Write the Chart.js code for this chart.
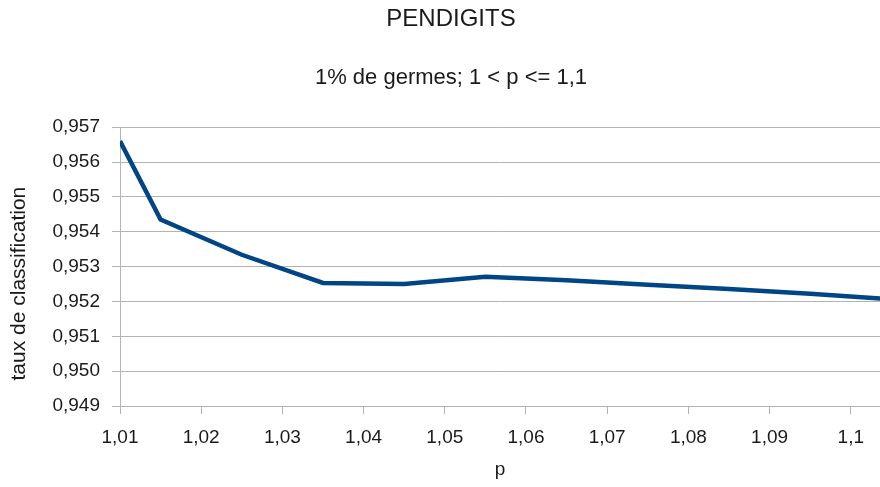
<!DOCTYPE html>
<html>
<head>
<meta charset="utf-8">
<script src="https://cdn.jsdelivr.net/npm/chart.js@4"></script>
<style>
  html, body { margin: 0; padding: 0; background: #fff; }
  #wrap { width: 880px; height: 487px; }
</style>
</head>
<body>
<div id="wrap"><canvas id="pChart"></canvas></div>
<script>
// classification rate against p (1% seeds)
const pValues = [1.01, 1.015, 1.025, 1.035, 1.045, 1.055, 1.065, 1.075, 1.085, 1.095, 1.105];
const tauxValues = [0.95660, 0.95435, 0.95334, 0.95253, 0.95250, 0.95271, 0.95261, 0.95248, 0.95236, 0.95222, 0.95206];
const xTicks = [1.01, 1.02, 1.03, 1.04, 1.05, 1.06, 1.07, 1.08, 1.09, 1.1];
const yTicks = [0.949, 0.950, 0.951, 0.952, 0.953, 0.954, 0.955, 0.956, 0.957];
const yTitle = "taux de classification";

const FONT = "'Liberation Sans', Arial, sans-serif";
const gridGray = "#b3b3b3";
const textColor = "#1a1a1a";

function frNumber(v, digits) {
    return v.toFixed(digits).replace(".", ",");
}

// vertical y title, sits a little below the middle of the plot
const yTitlePlugin = {
    id: "yTitle",
    afterDraw(chart) {
        const { ctx, chartArea } = chart;
        const cy = (chartArea.top + chartArea.bottom) / 2 + 17;
        ctx.save();
        ctx.translate(19, cy);
        ctx.rotate(-Math.PI / 2);
        ctx.font = "21px " + FONT;
        ctx.fillStyle = textColor;
        ctx.textAlign = "center";
        ctx.textBaseline = "middle";
        ctx.fillText(yTitle, 0, 0);
        ctx.restore();
    }
};

const ctx = document.getElementById("pChart").getContext("2d");

new Chart(ctx, {
    type: "line",
    data: {
        datasets: [{
            data: pValues.map((p, i) => ({ x: p, y: tauxValues[i] })),
            borderColor: "#004586",
            borderWidth: 4.5,
            pointRadius: 0,
            tension: 0,
            fill: false
        }]
    },
    options: {
        responsive: true,
        maintainAspectRatio: false,
        animation: false,
        // left padding keeps the titles centred a bit right of the canvas middle
        layout: { padding: { left: 22, right: 0, top: 0, bottom: 0 } },
        plugins: {
            legend: { display: false },
            tooltip: { enabled: false },
            title: {
                display: true,
                text: "PENDIGITS",
                color: textColor,
                font: { family: FONT, size: 24, weight: "normal" },
                padding: { top: 5, bottom: 0 }
            },
            subtitle: {
                display: true,
                text: "1% de germes; 1 < p <= 1,1",
                color: textColor,
                font: { family: FONT, size: 22, weight: "normal" },
                padding: { top: 31, bottom: 36 }
            }
        },
        scales: {
            x: {
                type: "linear",
                min: 1.01,
                max: 1.1036,
                afterBuildTicks: (axis) => {
                    axis.ticks = xTicks.map(v => ({ value: v }));
                },
                afterFit: (axis) => { axis.height = 81; },
                ticks: {
                    autoSkip: false,
                    maxRotation: 0,
                    padding: 12,
                    color: textColor,
                    font: { family: FONT, size: 19 },
                    callback: (v) => frNumber(v, v === 1.1 ? 1 : 2)
                },
                grid: {
                    drawOnChartArea: false,
                    drawTicks: true,
                    tickLength: 8,
                    color: gridGray
                },
                border: { display: true, color: gridGray },
                title: {
                    display: true,
                    text: "p",
                    color: textColor,
                    font: { family: FONT, size: 19 },
                    padding: { top: 0, bottom: 6 }
                }
            },
            y: {
                min: 0.949,
                max: 0.957,
                afterBuildTicks: (axis) => {
                    axis.ticks = yTicks.map(v => ({ value: v }));
                },
                afterFit: (axis) => { axis.width = 98; },
                ticks: {
                    padding: 12,
                    color: textColor,
                    font: { family: FONT, size: 19 },
                    callback: (v) => frNumber(v, 3)
                },
                grid: {
                    drawTicks: true,
                    tickLength: 8,
                    color: gridGray
                },
                border: { display: true, color: gridGray }
            }
        }
    },
    plugins: [yTitlePlugin]
});
</script>
</body>
</html>
